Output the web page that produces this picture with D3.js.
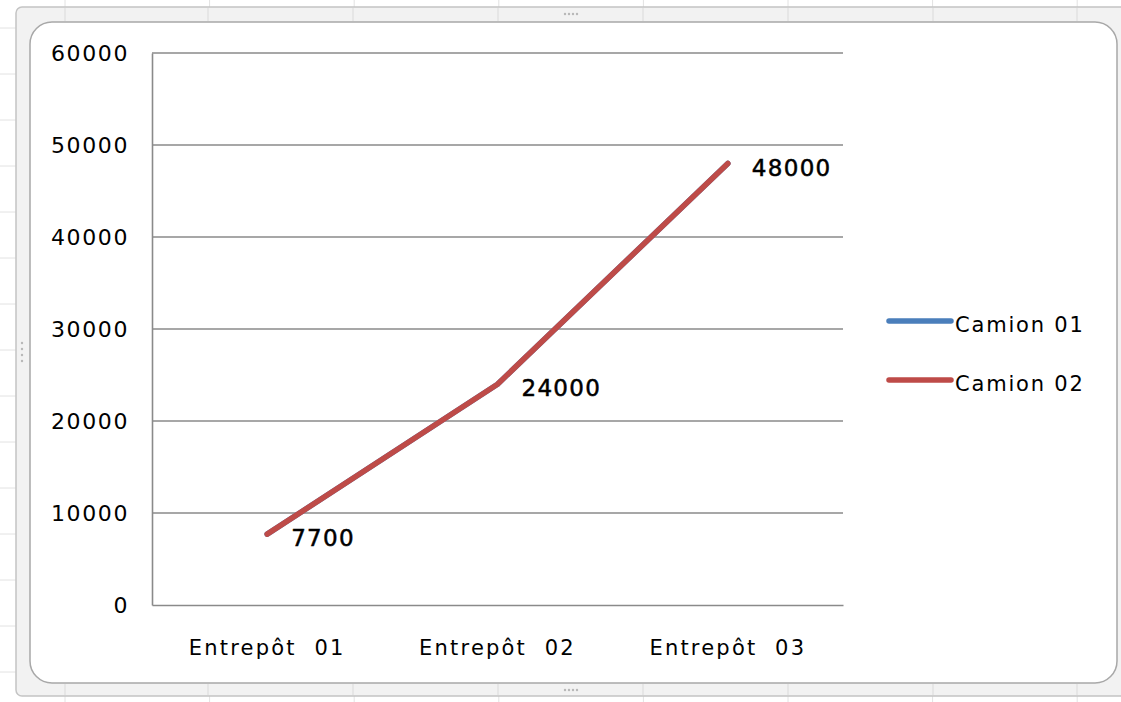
<!DOCTYPE html>
<html>
<head>
<meta charset="utf-8">
<script src="https://cdn.jsdelivr.net/npm/d3@7/dist/d3.min.js"></script>
<style>
  html, body { margin: 0; padding: 0; background: #ffffff; }
  svg { display: block; }
  text { font-family: "DejaVu Sans", Verdana, sans-serif; fill: #000; }
</style>
</head>
<body>
<svg id="chart" width="1121" height="702"></svg>
<script>
// ---- Data ----
const categories = ["Entrepôt  01", "Entrepôt  02", "Entrepôt  03"];
const camion01 = [7700, 24000, 48000];
const camion02 = [7700, 24000, 48000];
const seriesNames = ["Camion 01", "Camion 02"];
const seriesColors = ["#4a7ebb", "#be4b48"];
const yTicks = [0, 10000, 20000, 30000, 40000, 50000, 60000];

const svg = d3.select("#chart");
const W = 1121, H = 702;

// ---- Spreadsheet background ----
const bg = svg.append("g");
const colXs = d3.range(65, W, 144.6);
const rowYs = d3.range(28, H, 46);
bg.selectAll("line.col").data(colXs).join("line")
  .attr("x1", d => d).attr("x2", d => d).attr("y1", 0).attr("y2", H)
  .attr("stroke", "#e2e2e2").attr("stroke-width", 1);
bg.selectAll("line.row").data(rowYs).join("line")
  .attr("x1", 0).attr("x2", W).attr("y1", d => d).attr("y2", d => d)
  .attr("stroke", "#e2e2e2").attr("stroke-width", 1);

// ---- Chart frame (Excel-like) ----
const frame = svg.append("g");
frame.append("rect")
  .attr("x", 16).attr("y", 7).attr("width", 1110).attr("height", 689)
  .attr("rx", 6)
  .attr("fill", "#f2f2f2").attr("stroke", "#c4c4c4").attr("stroke-width", 1.5);
frame.append("rect")
  .attr("x", 30).attr("y", 22).attr("width", 1087).attr("height", 661)
  .attr("rx", 22)
  .attr("fill", "#ffffff").attr("stroke", "#a8a8a8").attr("stroke-width", 1.5);
[65, 208, 353, 498, 643, 788, 933, 1077].forEach(x => {
  frame.append("line").attr("x1", x).attr("x2", x).attr("y1", 8).attr("y2", 21)
    .attr("stroke", "#dadada");
  frame.append("line").attr("x1", x).attr("x2", x).attr("y1", 684).attr("y2", 695)
    .attr("stroke", "#dadada");
});
const dots = [[565, 14], [569, 14], [573, 14], [577, 14], [565, 690], [569, 690], [573, 690], [577, 690],
  [22, 343], [22, 349], [22, 355], [22, 361]];
frame.selectAll("circle.h").data(dots).join("circle")
  .attr("cx", d => d[0]).attr("cy", d => d[1]).attr("r", 1.2).attr("fill", "#b8b8b8");

// ---- Scales ----
const plot = { left: 152, right: 843, top: 53, bottom: 605 };
const x = d3.scaleBand().domain(categories).range([plot.left, plot.right]);
const y = d3.scaleLinear().domain([0, 60000]).range([plot.bottom, plot.top]);

const g = svg.append("g");

// gridlines
g.selectAll("line.grid").data(yTicks.filter(d => d > 0)).join("line")
  .attr("x1", plot.left).attr("x2", plot.right)
  .attr("y1", d => y(d)).attr("y2", d => y(d))
  .attr("stroke", "#8a8a8a").attr("stroke-width", 1.6);

// axes
const yAxis = d3.axisLeft(y).tickValues(yTicks).tickSize(0).tickPadding(23).tickFormat(d3.format("d"));
const yG = g.append("g").attr("transform", `translate(${plot.left},0)`).call(yAxis);
yG.select(".domain").attr("stroke", "#8a8a8a").attr("stroke-width", 1.6);
yG.selectAll("text").style("font-size", "22px").style("letter-spacing", "1.6px").attr("dy", "0.36em");

const xAxis = d3.axisBottom(x).tickSize(0).tickPadding(35);
const xG = g.append("g").attr("transform", `translate(0,${plot.bottom})`).call(xAxis);
xG.select(".domain").attr("stroke", "#8a8a8a").attr("stroke-width", 1.6);
xG.selectAll("text").style("font-size", "21px").style("white-space", "pre")
  .style("letter-spacing", "2.2px").attr("dy", "0.71em");

// lines
const line = d3.line()
  .x((d, i) => x(categories[i]) + x.bandwidth() / 2)
  .y(d => y(d));
[camion01, camion02].forEach((s, k) => {
  g.append("path").datum(s)
    .attr("d", line)
    .attr("fill", "none")
    .attr("stroke", seriesColors[k])
    .attr("stroke-width", 5.5)
    .attr("stroke-linecap", "round")
    .attr("stroke-linejoin", "round");
});

// data labels (Camion 02)
g.selectAll("text.lbl").data(camion02).join("text")
  .attr("class", "lbl")
  .attr("x", (d, i) => x(categories[i]) + x.bandwidth() / 2 + 24)
  .attr("y", d => y(d) + 4)
  .attr("dy", "0.36em")
  .style("font-size", "23px")
  .style("letter-spacing", "1.3px")
  .attr("stroke", "#000").attr("stroke-width", 0.5)
  .text(d => d);

// legend
const leg = svg.append("g");
seriesNames.forEach((n, k) => {
  const ly = 321 + k * 59;
  leg.append("line").attr("x1", 889).attr("x2", 951).attr("y1", ly).attr("y2", ly)
    .attr("stroke", seriesColors[k]).attr("stroke-width", 5.5).attr("stroke-linecap", "round");
  leg.append("text").attr("x", 955).attr("y", ly + 3).attr("dy", "0.36em")
    .style("font-size", "21px").style("letter-spacing", "1.8px").text(n);
});
</script>
</body>
</html>
